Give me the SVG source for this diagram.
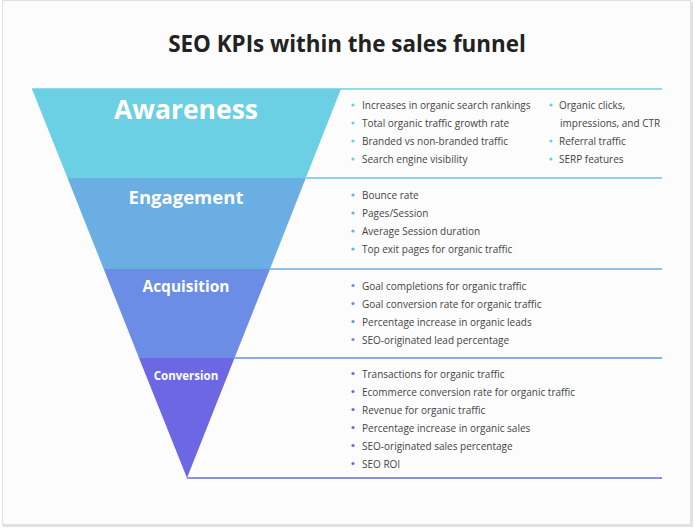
<svg xmlns="http://www.w3.org/2000/svg" width="694" height="530" viewBox="0 0 694 530">
<style>
.t{font-family:"Open Sans","Liberation Sans",sans-serif;font-size:10px;fill:#444}
.lbl{font-family:"Open Sans","Liberation Sans",sans-serif;font-weight:bold;fill:#fff;text-anchor:middle}
.title{font-family:"Open Sans","Liberation Sans",sans-serif;font-weight:bold;font-size:22.4px;fill:#222;text-anchor:middle}
.sep{stroke-width:1.3;fill:none}
</style>
<rect x="0" y="0" width="694" height="530" fill="#ffffff"/>
<rect x="3" y="2" width="690" height="525" fill="#e2e2e2"/>
<rect x="2.5" y="0.5" width="688" height="524" fill="#fcfcfc" stroke="#e0e0e0" stroke-width="1"/>
<text class="title" x="347" y="52">SEO KPIs within the sales funnel</text>

<g id="awareness">
<polygon points="32,89 341,89 305.8,178 67.5,178" fill="#6bd0e4"/>
<text class="lbl" x="186" y="119" font-size="26.5">Awareness</text>
<circle cx="353" cy="105" r="1.6" fill="#6bd0e4"/><text class="t" x="362" y="109">Increases in organic search rankings</text>
<circle cx="353" cy="123" r="1.6" fill="#6bd0e4"/><text class="t" x="362" y="127">Total organic traffic growth rate</text>
<circle cx="353" cy="141" r="1.6" fill="#6bd0e4"/><text class="t" x="362" y="145">Branded vs non-branded traffic</text>
<circle cx="353" cy="159" r="1.6" fill="#6bd0e4"/><text class="t" x="362" y="163">Search engine visibility</text>
<circle cx="551" cy="105" r="1.6" fill="#6bd0e4"/><text class="t" x="559" y="109">Organic clicks,</text>
<text class="t" x="560" y="127">impressions, and CTR</text>
<circle cx="551" cy="141" r="1.6" fill="#6bd0e4"/><text class="t" x="559" y="145">Referral traffic</text>
<circle cx="551" cy="159" r="1.6" fill="#6bd0e4"/><text class="t" x="559" y="163">SERP features</text>
</g>

<g id="engagement">
<polygon points="67.5,178 305.8,178 270,269 103.7,269" fill="#6aaee3"/>
<text class="lbl" x="186" y="204" font-size="18.5">Engagement</text>
<circle cx="353" cy="195" r="1.6" fill="#6aaee3"/><text class="t" x="362" y="199">Bounce rate</text>
<circle cx="353" cy="213" r="1.6" fill="#6aaee3"/><text class="t" x="362" y="217">Pages/Session</text>
<circle cx="353" cy="231" r="1.6" fill="#6aaee3"/><text class="t" x="362" y="235">Average Session duration</text>
<circle cx="353" cy="249" r="1.6" fill="#6aaee3"/><text class="t" x="362" y="253">Top exit pages for organic traffic</text>
</g>

<g id="acquisition">
<polygon points="103.7,269 270,269 234.5,358 139,358" fill="#6b8de6"/>
<text class="lbl" x="186" y="292" font-size="15.5">Acquisition</text>
<circle cx="353" cy="285.5" r="1.6" fill="#6b8de6"/><text class="t" x="362" y="289.5">Goal completions for organic traffic</text>
<circle cx="353" cy="303.5" r="1.6" fill="#6b8de6"/><text class="t" x="362" y="307.5">Goal conversion rate for organic traffic</text>
<circle cx="353" cy="321.5" r="1.6" fill="#6b8de6"/><text class="t" x="362" y="325.5">Percentage increase in organic leads</text>
<circle cx="353" cy="339.5" r="1.6" fill="#6b8de6"/><text class="t" x="362" y="343.5">SEO-originated lead percentage</text>
</g>

<g id="conversion">
<polygon points="139,358 234.5,358 187,478" fill="#6c68e3"/>
<text class="lbl" x="186" y="380" font-size="11.5">Conversion</text>
<circle cx="353" cy="373.5" r="1.6" fill="#6c68e3"/><text class="t" x="362" y="377.5">Transactions for organic traffic</text>
<circle cx="353" cy="391.5" r="1.6" fill="#6c68e3"/><text class="t" x="362" y="395.5">Ecommerce conversion rate for organic traffic</text>
<circle cx="353" cy="409.5" r="1.6" fill="#6c68e3"/><text class="t" x="362" y="413.5">Revenue for organic traffic</text>
<circle cx="353" cy="427.5" r="1.6" fill="#6c68e3"/><text class="t" x="362" y="431.5">Percentage increase in organic sales</text>
<circle cx="353" cy="445.5" r="1.6" fill="#6c68e3"/><text class="t" x="362" y="449.5">SEO-originated sales percentage</text>
<circle cx="353" cy="463.5" r="1.6" fill="#6c68e3"/><text class="t" x="362" y="467.5">SEO ROI</text>
</g>

<g id="connectors">
<line class="sep" x1="32" y1="89" x2="662" y2="89" stroke="#6bd0e4"/>
<line class="sep" x1="305.8" y1="178" x2="662" y2="178" stroke="#6cc4e4"/>
<line class="sep" x1="270" y1="269" x2="662" y2="269" stroke="#6aaee3"/>
<line class="sep" x1="234.5" y1="358" x2="662" y2="358" stroke="#6b8de6"/>
<line class="sep" x1="187" y1="478" x2="662" y2="478" stroke="#6c68e3"/>
</g>
</svg>
